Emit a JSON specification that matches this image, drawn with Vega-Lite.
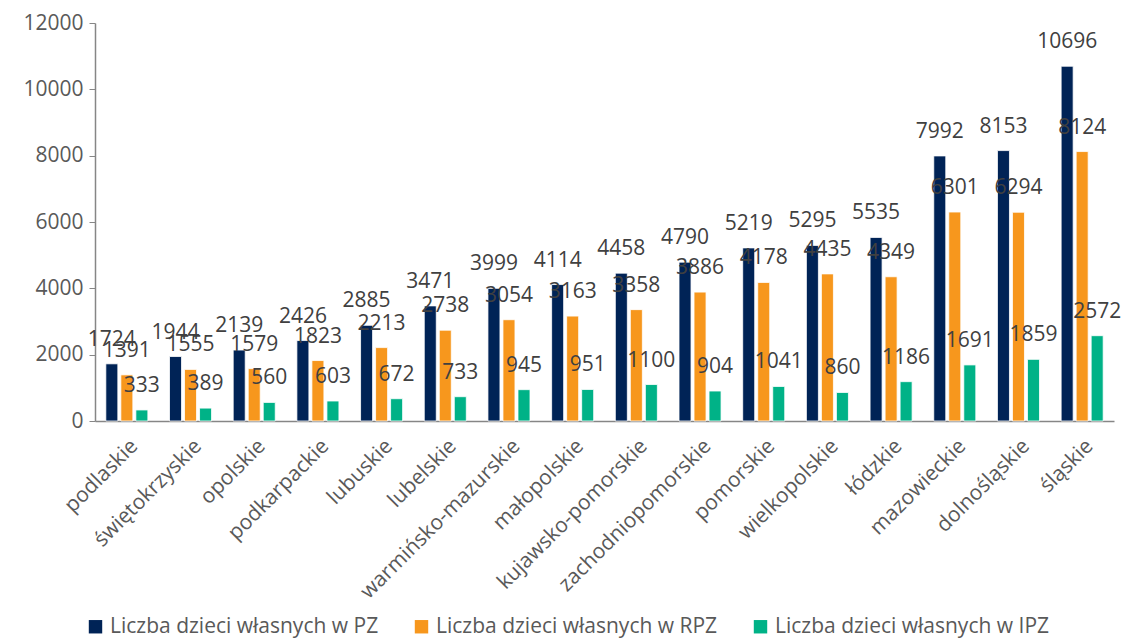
{
  "$schema": "https://vega.github.io/schema/vega-lite/v6.json",
  "width": 1019,
  "height": 398,
  "autosize": {"type": "none"},
  "padding": {"left": 95, "top": 23, "right": 12, "bottom": 217},
  "background": "white",
  "config": {
    "font": "Open Sans",
    "view": {"stroke": null}
  },
  "data": {
    "values": [
      {"region": "podlaskie", "series": "Liczba dzieci własnych w PZ", "value": 1724},
      {"region": "świętokrzyskie", "series": "Liczba dzieci własnych w PZ", "value": 1944},
      {"region": "opolskie", "series": "Liczba dzieci własnych w PZ", "value": 2139},
      {"region": "podkarpackie", "series": "Liczba dzieci własnych w PZ", "value": 2426},
      {"region": "lubuskie", "series": "Liczba dzieci własnych w PZ", "value": 2885},
      {"region": "lubelskie", "series": "Liczba dzieci własnych w PZ", "value": 3471},
      {"region": "warmińsko-mazurskie", "series": "Liczba dzieci własnych w PZ", "value": 3999},
      {"region": "małopolskie", "series": "Liczba dzieci własnych w PZ", "value": 4114},
      {"region": "kujawsko-pomorskie", "series": "Liczba dzieci własnych w PZ", "value": 4458},
      {"region": "zachodniopomorskie", "series": "Liczba dzieci własnych w PZ", "value": 4790},
      {"region": "pomorskie", "series": "Liczba dzieci własnych w PZ", "value": 5219},
      {"region": "wielkopolskie", "series": "Liczba dzieci własnych w PZ", "value": 5295},
      {"region": "łódzkie", "series": "Liczba dzieci własnych w PZ", "value": 5535},
      {"region": "mazowieckie", "series": "Liczba dzieci własnych w PZ", "value": 7992},
      {"region": "dolnośląskie", "series": "Liczba dzieci własnych w PZ", "value": 8153},
      {"region": "śląskie", "series": "Liczba dzieci własnych w PZ", "value": 10696},
      {"region": "podlaskie", "series": "Liczba dzieci własnych w RPZ", "value": 1391},
      {"region": "świętokrzyskie", "series": "Liczba dzieci własnych w RPZ", "value": 1555},
      {"region": "opolskie", "series": "Liczba dzieci własnych w RPZ", "value": 1579},
      {"region": "podkarpackie", "series": "Liczba dzieci własnych w RPZ", "value": 1823},
      {"region": "lubuskie", "series": "Liczba dzieci własnych w RPZ", "value": 2213},
      {"region": "lubelskie", "series": "Liczba dzieci własnych w RPZ", "value": 2738},
      {"region": "warmińsko-mazurskie", "series": "Liczba dzieci własnych w RPZ", "value": 3054},
      {"region": "małopolskie", "series": "Liczba dzieci własnych w RPZ", "value": 3163},
      {"region": "kujawsko-pomorskie", "series": "Liczba dzieci własnych w RPZ", "value": 3358},
      {"region": "zachodniopomorskie", "series": "Liczba dzieci własnych w RPZ", "value": 3886},
      {"region": "pomorskie", "series": "Liczba dzieci własnych w RPZ", "value": 4178},
      {"region": "wielkopolskie", "series": "Liczba dzieci własnych w RPZ", "value": 4435},
      {"region": "łódzkie", "series": "Liczba dzieci własnych w RPZ", "value": 4349},
      {"region": "mazowieckie", "series": "Liczba dzieci własnych w RPZ", "value": 6301},
      {"region": "dolnośląskie", "series": "Liczba dzieci własnych w RPZ", "value": 6294},
      {"region": "śląskie", "series": "Liczba dzieci własnych w RPZ", "value": 8124},
      {"region": "podlaskie", "series": "Liczba dzieci własnych w IPZ", "value": 333},
      {"region": "świętokrzyskie", "series": "Liczba dzieci własnych w IPZ", "value": 389},
      {"region": "opolskie", "series": "Liczba dzieci własnych w IPZ", "value": 560},
      {"region": "podkarpackie", "series": "Liczba dzieci własnych w IPZ", "value": 603},
      {"region": "lubuskie", "series": "Liczba dzieci własnych w IPZ", "value": 672},
      {"region": "lubelskie", "series": "Liczba dzieci własnych w IPZ", "value": 733},
      {"region": "warmińsko-mazurskie", "series": "Liczba dzieci własnych w IPZ", "value": 945},
      {"region": "małopolskie", "series": "Liczba dzieci własnych w IPZ", "value": 951},
      {"region": "kujawsko-pomorskie", "series": "Liczba dzieci własnych w IPZ", "value": 1100},
      {"region": "zachodniopomorskie", "series": "Liczba dzieci własnych w IPZ", "value": 904},
      {"region": "pomorskie", "series": "Liczba dzieci własnych w IPZ", "value": 1041},
      {"region": "wielkopolskie", "series": "Liczba dzieci własnych w IPZ", "value": 860},
      {"region": "łódzkie", "series": "Liczba dzieci własnych w IPZ", "value": 1186},
      {"region": "mazowieckie", "series": "Liczba dzieci własnych w IPZ", "value": 1691},
      {"region": "dolnośląskie", "series": "Liczba dzieci własnych w IPZ", "value": 1859},
      {"region": "śląskie", "series": "Liczba dzieci własnych w IPZ", "value": 2572}
    ]
  },
  "encoding": {
    "x": {
      "field": "region",
      "type": "nominal",
      "sort": null,
      "title": null,
      "scale": {"paddingInner": 0.34, "paddingOuter": 0.17},
      "axis": {
        "labelAngle": -45,
        "labelFontSize": 21,
        "labelColor": "#595959",
        "labelLimit": 400,
        "ticks": false,
        "domainColor": "#868686",
        "domainWidth": 1.5,
        "labelPadding": 14
      }
    },
    "xOffset": {
      "field": "series",
      "type": "nominal",
      "sort": ["Liczba dzieci własnych w PZ", "Liczba dzieci własnych w RPZ", "Liczba dzieci własnych w IPZ"],
      "scale": {"paddingInner": 0.2}
    },
    "y": {
      "field": "value",
      "type": "quantitative",
      "title": null,
      "scale": {"domain": [0, 12000], "nice": false},
      "axis": {
        "values": [0, 2000, 4000, 6000, 8000, 10000, 12000],
        "format": "d",
        "grid": false,
        "labelFontSize": 21,
        "labelColor": "#595959",
        "domainColor": "#868686",
        "domainWidth": 1.5,
        "tickColor": "#868686",
        "tickSize": 6,
        "labelPadding": 6
      }
    }
  },
  "layer": [
    {
      "mark": {"type": "bar", "stroke": "white", "strokeWidth": 0.8},
      "encoding": {
        "color": {
          "field": "series",
          "type": "nominal",
          "sort": ["Liczba dzieci własnych w PZ", "Liczba dzieci własnych w RPZ", "Liczba dzieci własnych w IPZ"],
          "scale": {"range": ["#002356", "#f7971d", "#00b287"]},
          "legend": {
            "title": null,
            "orient": "none",
            "legendX": -10,
            "legendY": 593,
            "direction": "horizontal",
            "symbolType": "square",
            "symbolSize": 180,
            "symbolStrokeWidth": 0,
            "labelFontSize": 21,
            "labelColor": "#595959",
            "columnPadding": 32,
            "labelLimit": 400
          }
        }
      }
    },
    {
      "mark": {"type": "text", "baseline": "alphabetic", "dy": -18, "fontSize": 21, "color": "#404040"},
      "encoding": {
        "text": {"field": "value", "type": "quantitative", "format": "d"}
      }
    }
  ]
}
